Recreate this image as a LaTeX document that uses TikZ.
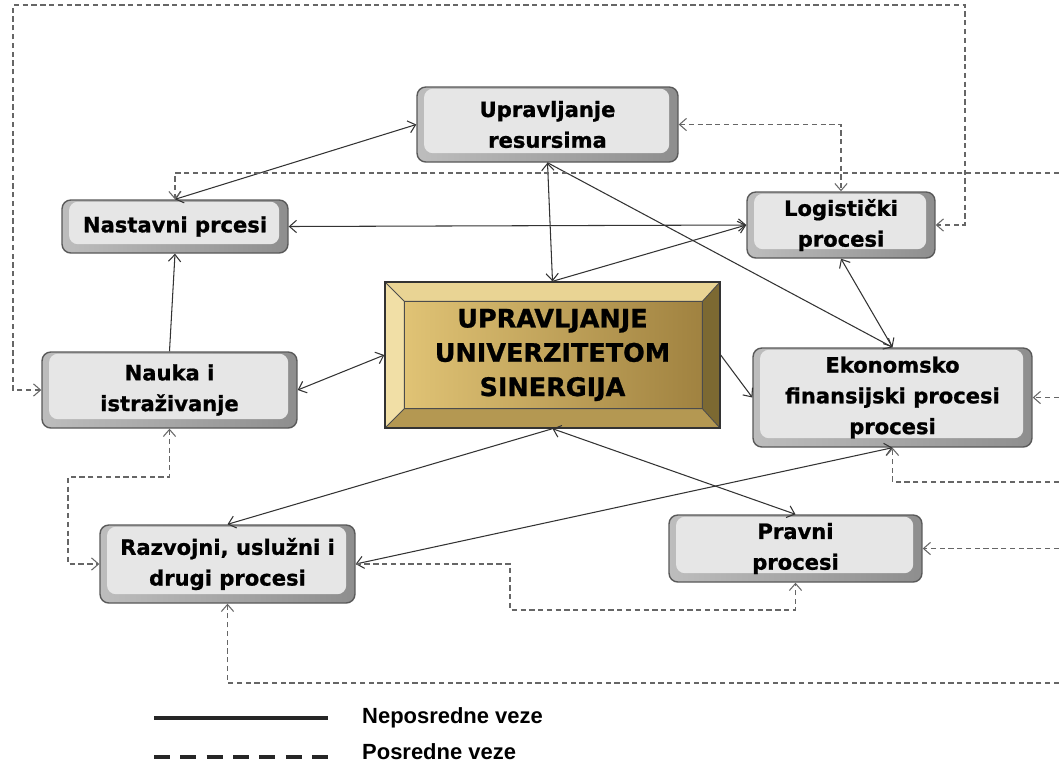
\documentclass[tikz,border=0pt]{standalone}
\usepackage{fontspec}
\setmainfont{DejaVu Sans}[BoldFeatures={FakeBold=1}]
\newfontfamily\legendfont{Liberation Sans}
\usetikzlibrary{arrows.meta}

\definecolor{boxfill}{HTML}{E6E6E6}
\definecolor{boxlight}{HTML}{BDBDBD}
\definecolor{boxedge}{HTML}{8E8E8E}
\definecolor{goldtop}{HTML}{E9D494}
\definecolor{goldleft}{HTML}{F1DFA6}
\definecolor{goldright}{HTML}{7C6932}
\definecolor{goldbottom}{HTML}{B49852}
\definecolor{goldface}{HTML}{E0C375}
\definecolor{golddark}{HTML}{A08240}

\tikzset{
  procbox/.style={draw=black!65, line width=0.8pt, rounded corners=5pt,
    left color=boxlight, right color=boxedge,
    align=center, inner sep=2pt, font=\fontsize{12}{17.5}\selectfont\bfseries,
    path picture={\fill[boxfill] ([xshift=4pt,yshift=5pt]path picture bounding box.south west)
      rectangle ([xshift=-5pt,yshift=-1pt]path picture bounding box.north east);}},
  centrebox/.style={draw=black!80, line width=0.8pt, inner sep=0pt, align=center,
    minimum width=6.7cm, minimum height=2.92cm, font=\fontsize{14.5}{19.5}\selectfont\bfseries,
    path picture={
      \coordinate (o1) at (path picture bounding box.north west);
      \coordinate (o2) at (path picture bounding box.north east);
      \coordinate (o3) at (path picture bounding box.south east);
      \coordinate (o4) at (path picture bounding box.south west);
      \coordinate (i1) at ([xshift=11pt,yshift=-11pt]o1);
      \coordinate (i2) at ([xshift=-10pt,yshift=-11pt]o2);
      \coordinate (i3) at ([xshift=-10pt,yshift=11pt]o3);
      \coordinate (i4) at ([xshift=11pt,yshift=11pt]o4);
      \fill[goldtop] (o1) -- (o2) -- (i2) -- (i1) -- cycle;
      \fill[goldleft] (o1) -- (i1) -- (i4) -- (o4) -- cycle;
      \fill[goldright] (o2) -- (o3) -- (i3) -- (i2) -- cycle;
      \fill[goldbottom] (o4) -- (i4) -- (i3) -- (o3) -- cycle;
      \shade[left color=goldface, right color=golddark] (i1) rectangle (i3);
      \draw[black!70, line width=0.5pt] (i1) rectangle (i3) (o1) -- (i1) (o2) -- (i2) (o3) -- (i3) (o4) -- (i4);
    }},
  direct/.style={draw=black!80, line width=0.6pt},
  indirect/.style={draw=black!60, line width=0.6pt, dash pattern=on 3pt off 2pt},
}

\begin{document}
\begin{tikzpicture}[x = 0.02cm, y = -0.02cm,
                    >={Straight Barb[length=4pt,width=7pt]}]
\useasboundingbox (0,0) rectangle (1059,762);

\node[procbox, minimum width=5.22cm, minimum height=1.5cm]  (U)  at (547.5,124.5) {Upravljanje\\resursima};
\node[procbox, minimum width=4.52cm, minimum height=1.06cm] (N)  at (175,226.5) {Nastavni prcesi};
\node[procbox, minimum width=3.76cm, minimum height=1.32cm] (L)  at (841,225) {Logistički\\procesi};
\node[centrebox] (C) at (552.5,355) {UPRAVLJANJE\\UNIVERZITETOM\\SINERGIJA};
\node[procbox, minimum width=5.1cm, minimum height=1.52cm]  (NI) at (169.5,390) {Nauka i\\istraživanje};
\node[procbox, minimum width=5.58cm, minimum height=1.98cm] (E)  at (892.5,397.5) {Ekonomsko\\finansijski procesi\\procesi};
\node[procbox, minimum width=5.1cm, minimum height=1.56cm]  (R)  at (227.5,564) {Razvojni, uslužni i\\drugi procesi};
\node[procbox, minimum width=5.06cm, minimum height=1.34cm] (P)  at (795.5,548.5) {Pravni\\procesi};

% neposredne
\draw[direct,<->] (N.north) -- (U.west);
\draw[direct,<->] (N.east) -- (L.west);
\draw[direct,->] (NI.north) -- (N.south);
\draw[direct,<->] (U.south) -- (C.north);
\draw[direct,->] (C.north) -- (L.west);
\draw[direct,->] (U.south) -- (E.north);
\draw[direct,<->] (L.south) -- (E.north);
\draw[direct,->] (C.east) -- (E.west);
\draw[direct,<->] (NI.east) -- (C.west);
\draw[direct,->] (C.south) -- (R.north);
\draw[direct,<->] (C.south) -- (P.north);
\draw[direct,<->] (E.south) -- (R.east);

% posredne
\coordinate (topleft)  at (13,5);
\coordinate (topright) at (965,5);
\coordinate (edgeA) at (1059,173);
\coordinate (edgeB) at (1059,397.5);
\coordinate (edgeC) at (1059,482);
\coordinate (edgeD) at (1059,548.5);
\coordinate (edgeE) at (1059,683);
\coordinate (bendL) at (68,477);
\coordinate (bendP) at (510,610);

\draw[indirect,<->] (NI.west) -| (topleft) -- (topright) |- (L.east);
\draw[indirect,<->] (U.east) -| (L.north);
\draw[indirect,->] (edgeA) -| (N.north);
\draw[indirect,->] (edgeB) -- (E.east);
\draw[indirect,->] (edgeC) -| (E.south);
\draw[indirect,->] (edgeD) -- (P.east);
\draw[indirect,->] (R.east) -| (bendP) -| (P.south);
\draw[indirect,->] (edgeE) -| (R.south);
\draw[indirect,<->] (NI.south) |- (bendL) |- (R.west);

% legenda
\coordinate (lgA) at (154,718);
\coordinate (lgB) at (328,718);
\coordinate (lgC) at (154,757);
\coordinate (lgD) at (328,757);
\draw[line width=1.8pt, black!85] (lgA) -- (lgB);
\draw[line width=2pt, black!85, dash pattern=on 9pt off 6pt] (lgC) -- (lgD);
\node[anchor=west, font=\legendfont\fontsize{12.5}{14}\selectfont\bfseries] (lgtxtA) at (356,718) {Neposredne veze};
\node[anchor=west, font=\legendfont\fontsize{12.5}{14}\selectfont\bfseries] (lgtxtB) at (356,752) {Posredne veze};

\end{tikzpicture}
\end{document}
